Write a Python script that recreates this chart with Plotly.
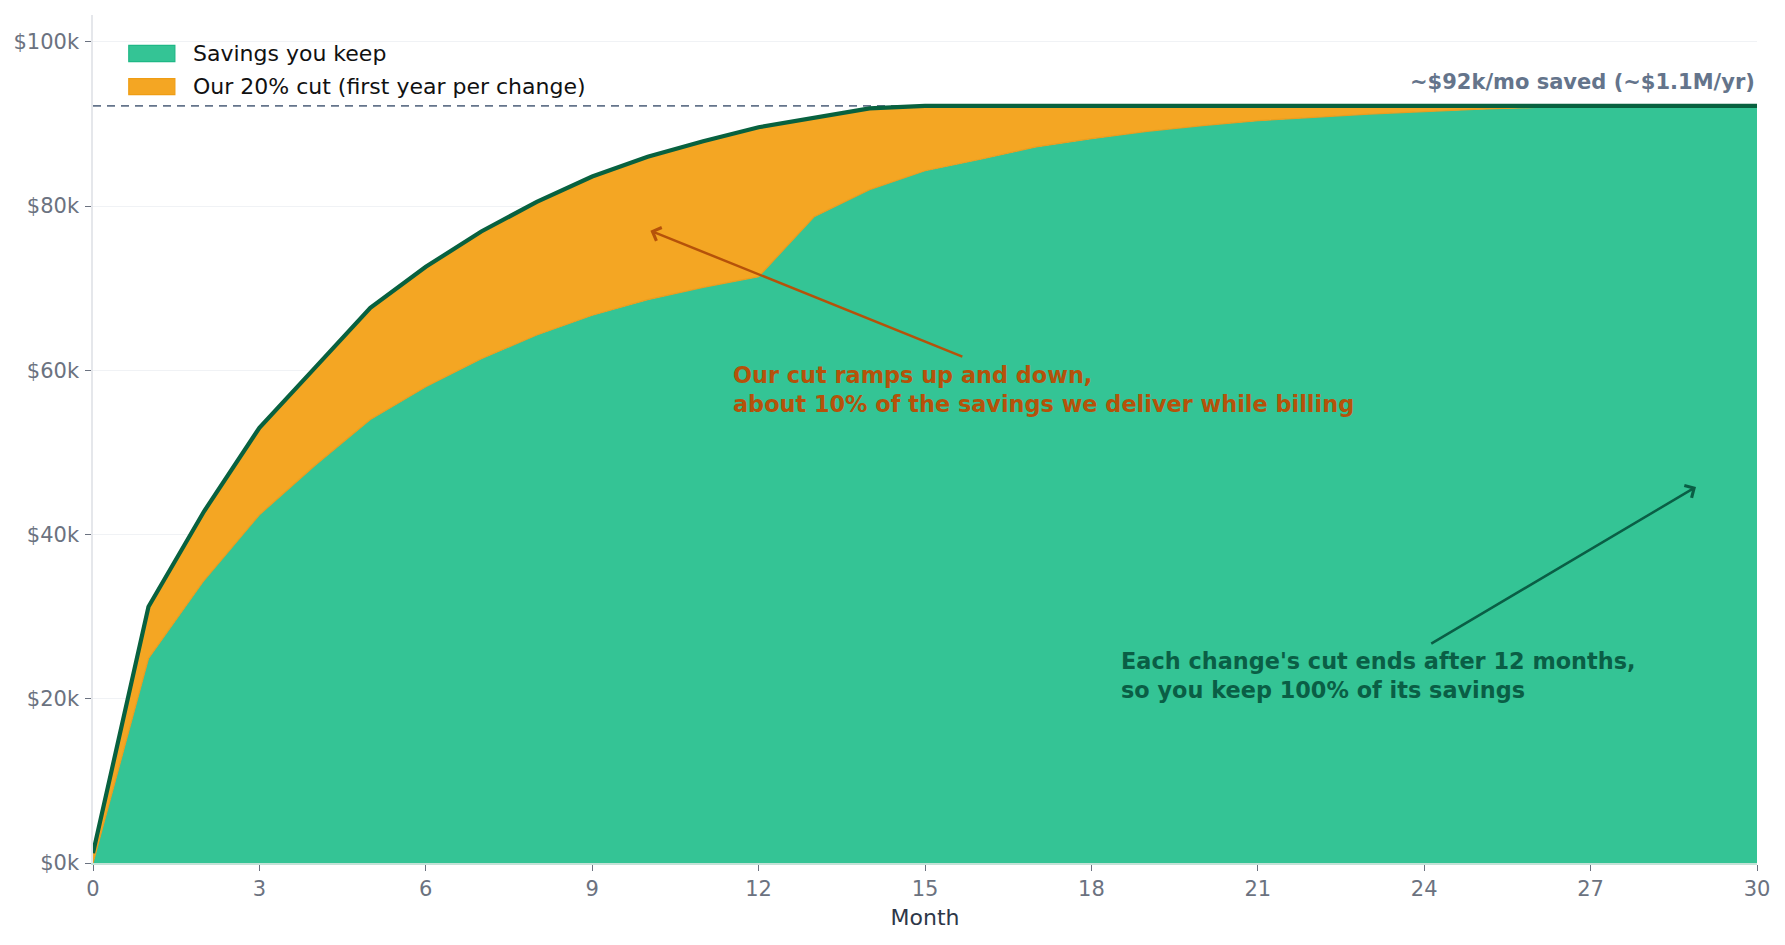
import plotly.graph_objects as go

# ---- data (values in $) ----
months = list(range(0, 31))
total_savings = [1200, 31200, 42800, 53000, 60300, 67600, 72600, 76900, 80500, 83600,
                 86000, 87900, 89600, 90800, 91900, 92200, 92200, 92200, 92200, 92200,
                 92200, 92200, 92200, 92200, 92200, 92200, 92200, 92200, 92200, 92200, 92200]
savings_kept = [0, 24900, 34400, 42400, 48400, 54000, 58000, 61400, 64300, 66700,
                68600, 70100, 71400, 78700, 82000, 84300, 85700, 87200, 88200, 89100,
                89800, 90400, 90800, 91200, 91500, 91800, 92000, 92100, 92200, 92200, 92200]
plateau = 92200
y_tick_vals = [0, 20000, 40000, 60000, 80000, 100000]
y_tick_text = ["$0k", "$20k", "$40k", "$60k", "$80k", "$100k"]
x_tick_vals = list(range(0, 31, 3))

legend_labels = ["Savings you keep", "Our 20% cut (first year per change)"]
plateau_label = "~$92k/mo saved (~$1.1M/yr)"
cut_note = "Our cut ramps up and down,<br>about 10% of the savings we deliver while billing"
keep_note = "Each change's cut ends after 12 months,<br>so you keep 100% of its savings"

# annotation anchor points (data space)
cut_note_pos = (11.5, 57600)
cut_arrow_head = (10.05, 77000)
cut_arrow_tail = (15.7, 61600)
keep_note_pos = (18.5, 22800)
keep_arrow_head = (28.9, 45800)
keep_arrow_tail = (24.1, 26600)

GREEN_FILL = "#34c495"
ORANGE_FILL = "#f4a623"
DARK_GREEN = "#08613f"
ORANGE_TEXT = "#b5520a"
GREEN_TEXT = "#0a5e45"
SLATE = "#64748b"
FONT = "DejaVu Sans"

fig = go.Figure()

# dashed plateau reference line
fig.add_shape(type="line", xref="x", yref="y", x0=months[0], x1=months[-1],
              y0=plateau, y1=plateau, layer="below",
              line=dict(color=SLATE, width=1.8, dash="8px,6px"))

fig.add_trace(go.Scatter(x=months, y=savings_kept, mode="lines", fill="tozeroy",
                         fillcolor=GREEN_FILL, line=dict(color="#e99d1f", width=1.2),
                         name=legend_labels[0], showlegend=False, hoverinfo="skip"))
fig.add_trace(go.Scatter(x=months, y=total_savings, mode="lines", fill="tonexty",
                         fillcolor=ORANGE_FILL, line=dict(color=ORANGE_FILL, width=0.5),
                         name=legend_labels[1], showlegend=False, hoverinfo="skip"))
fig.add_trace(go.Scatter(x=months, y=total_savings, mode="lines",
                         line=dict(color=DARK_GREEN, width=4.2),
                         showlegend=False, hoverinfo="skip"))

# manual legend (patches + labels)
legend_items = [(GREEN_FILL, "#1fb886", legend_labels[0], 0.9546),
                (ORANGE_FILL, "#ef9d14", legend_labels[1], 0.9155)]
for fill, edge, label, yc in legend_items:
    fig.add_shape(type="rect", xref="paper", yref="paper",
                  x0=0.0215, x1=0.0492, y0=yc - 0.0095, y1=yc + 0.0095,
                  fillcolor=fill, line=dict(color=edge, width=1.2), layer="above")
    fig.add_annotation(xref="paper", yref="paper", x=0.0590, y=yc, text=label,
                       showarrow=False, xanchor="left", yanchor="middle",
                       font=dict(family=FONT, size=22, color="#111111"))

# plateau label
fig.add_annotation(x=months[-1], y=plateau, xref="x", yref="y", text="<b>" + plateau_label + "</b>",
                   showarrow=False, xanchor="right", yanchor="bottom", yshift=10,
                   font=dict(family=FONT, size=21, color=SLATE))

# note texts
fig.add_annotation(x=cut_note_pos[0], y=cut_note_pos[1], xref="x", yref="y",
                   text="<b>" + cut_note + "</b>", showarrow=False, align="left",
                   xanchor="left", yanchor="middle",
                   font=dict(family=FONT, size=22.4, color=ORANGE_TEXT))
fig.add_annotation(x=keep_note_pos[0], y=keep_note_pos[1], xref="x", yref="y",
                   text="<b>" + keep_note + "</b>", showarrow=False, align="left",
                   xanchor="left", yanchor="middle",
                   font=dict(family=FONT, size=22.4, color=GREEN_TEXT))

# arrows
for head, tail, col in [(cut_arrow_head, cut_arrow_tail, ORANGE_TEXT),
                        (keep_arrow_head, keep_arrow_tail, GREEN_TEXT)]:
    fig.add_annotation(x=head[0], y=head[1], ax=tail[0], ay=tail[1],
                       xref="x", yref="y", axref="x", ayref="y", text="",
                       showarrow=True, arrowhead=4, arrowsize=1.1, arrowwidth=2.5,
                       arrowcolor=col, standoff=0)

fig.update_layout(
    width=1785, height=945,
    margin=dict(l=93, r=28, t=15, b=82),
    paper_bgcolor="white", plot_bgcolor="white",
    font=dict(family=FONT, size=21, color="#6b7280"),
    showlegend=False,
)
fig.update_xaxes(range=[0, 30], tickvals=x_tick_vals, ticks="outside", ticklen=6,
                 tickcolor="#6b7280", tickwidth=1.2, showgrid=False,
                 showline=True, linecolor="#c4e2d7", linewidth=1.8, zeroline=False,
                 tickfont=dict(family=FONT, size=21, color="#6b7280"),
                 title=dict(text="Month", font=dict(family=FONT, size=22, color="#2d3748"), standoff=10))
fig.update_yaxes(range=[0, plateau * 1.12], tickvals=y_tick_vals, ticktext=y_tick_text,
                 ticks="outside", ticklen=6, tickcolor="#6b7280", tickwidth=1.2,
                 ticklabelstandoff=2,
                 showgrid=True, gridcolor="#f0f2f5", gridwidth=1.2,
                 showline=True, linecolor="#e5e7eb", linewidth=1.5, zeroline=False,
                 tickfont=dict(family=FONT, size=21, color="#6b7280"))

fig.write_html("out.html", config={"displayModeBar": False},
               post_script="document.body.style.margin='0';document.body.style.overflow='hidden';")
